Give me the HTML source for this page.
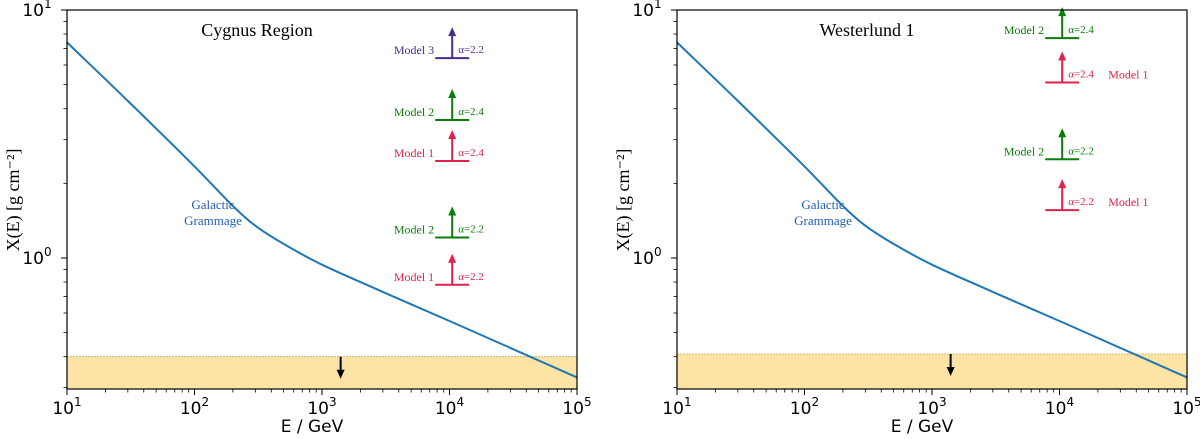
<!DOCTYPE html>
<html><head><meta charset="utf-8"><style>
html,body{margin:0;padding:0;background:#fff;}
svg{display:block;}
.tk{font-family:"DejaVu Sans","Liberation Sans",sans-serif;font-size:17px;fill:#000;}
.sf{font-family:"Liberation Serif",serif;}
</style></head><body>
<svg id="chart" width="1200" height="439"></svg>
<script>
const curveE = [10, 30, 100, 200, 300, 500, 1000, 3000, 10000, 30000, 100000];
const curveX = [7.4, 4.3, 2.34, 1.62, 1.35, 1.14, 0.94, 0.73, 0.557, 0.434, 0.33];
const bandTop = [0.40, 0.41];
const arrowE = 1400;
const panelTitles = ["Cygnus Region", "Westerlund 1"];
const xTickExp = [1, 2, 3, 4, 5];
const yTickExp = [0, 1];
const mkPanel = [0, 0, 0, 0, 0, 1, 1, 1, 1];
const mkLabel = ["Model 3", "Model 2", "Model 1", "Model 2", "Model 1", "Model 2", "Model 1", "Model 2", "Model 1"];
const mkAlpha = ["2.2", "2.4", "2.4", "2.2", "2.2", "2.4", "2.4", "2.2", "2.2"];
const mkX = [6.4, 3.6, 2.46, 1.21, 0.78, 7.7, 5.1, 2.5, 1.56];
const mkE = [10500, 10500, 10500, 10500, 10500, 10500, 10500, 10500, 10500];
const mkColor = ["#4b2c8c", "#0a7d0a", "#e0224a", "#0a7d0a", "#e0224a", "#0a7d0a", "#e0224a", "#0a7d0a", "#e0224a"];
const mkSide = ["L", "L", "L", "L", "L", "L", "R", "L", "R"];

const NS = "http://www.w3.org/2000/svg";
const svg = document.getElementById("chart");
function el(t, a, p) { const e = document.createElementNS(NS, t); for (const k in a) e.setAttribute(k, a[k]); (p || svg).appendChild(e); return e; }
const panels = [{x0: 67, x1: 577}, {x0: 677, x1: 1187}];
const yTop = 10, yBot = 389, decade = 248;
function sy(v) { return yTop + (1 - Math.log10(v)) * decade; }
function sxF(p) { return e => p.x0 + (Math.log10(e) - 1) / 4 * (p.x1 - p.x0); }
function smoothPath(pts) {
  let d = "M" + pts[0][0].toFixed(1) + "," + pts[0][1].toFixed(1);
  for (let i = 0; i < pts.length - 1; i++) {
    const p0 = pts[Math.max(0, i - 1)], p1 = pts[i], p2 = pts[i + 1], p3 = pts[Math.min(pts.length - 1, i + 2)];
    const c1 = [p1[0] + (p2[0] - p0[0]) / 6, p1[1] + (p2[1] - p0[1]) / 6];
    const c2 = [p2[0] - (p3[0] - p1[0]) / 6, p2[1] - (p3[1] - p1[1]) / 6];
    d += `C${c1[0].toFixed(1)},${c1[1].toFixed(1)} ${c2[0].toFixed(1)},${c2[1].toFixed(1)} ${p2[0].toFixed(1)},${p2[1].toFixed(1)}`;
  }
  return d;
}

panels.forEach((p, pi) => {
  const sx = sxF(p);
  const g = el("g", {});
  
  
  el("rect", {x: p.x0, y: yTop, width: p.x1 - p.x0, height: yBot - yTop, fill: "#fff"}, g);
  const by = sy(bandTop[pi]);
  const band = el("rect", {x: p.x0, y: by, width: p.x1 - p.x0, height: yBot - by, fill: "#fde4a4"}, g);
  
  
  el("line", {x1: p.x0, x2: p.x1, y1: by, y2: by, stroke: "#c9a860", "stroke-width": 0.8, "stroke-dasharray": "2,1"}, g);
  const ax = sx(arrowE);
  const ar = el("g", {}, g);
  
  
  el("line", {x1: ax, x2: ax, y1: by, y2: by + 16, stroke: "#000", "stroke-width": 2}, ar);
  el("path", {d: `M${ax - 4},${by + 13} L${ax + 4},${by + 13} L${ax},${by + 22} Z`, fill: "#000"}, ar);
  const pts = curveE.map((e, i) => [sx(e), sy(curveX[i])]);
  const c = el("path", {d: smoothPath(pts), fill: "none", stroke: "#1f77b4", "stroke-width": 2, "stroke-linejoin": "round"}, g);
  
  
  const lx = p.x0 + 146;
  const gl = el("text", {x: lx, y: 209, "text-anchor": "middle", class: "sf", "font-size": 13, fill: "#1f5fb4"}, g);
  
  
  gl.innerHTML = '<tspan x="' + lx + '">Galactic</tspan><tspan x="' + lx + '" dy="16">Grammage</tspan>';
  const t = el("text", {x: p.x0 + 190, y: 36, "text-anchor": "middle", class: "sf", "font-size": 18, fill: "#000"}, g);
  
  
  t.textContent = panelTitles[pi];
  mkPanel.forEach((pp, i) => {
    if (pp !== pi) return;
    const mx = sx(mkE[i]), my = sy(mkX[i]), col = mkColor[i];
    const mg = el("g", {}, g);
    
    
    el("line", {x1: mx - 17, x2: mx + 17, y1: my, y2: my, stroke: col, "stroke-width": 2}, mg);
    el("line", {x1: mx, x2: mx, y1: my, y2: my - 24, stroke: col, "stroke-width": 2}, mg);
    el("path", {d: `M${mx - 4},${my - 22} L${mx + 4},${my - 22} L${mx},${my - 31} Z`, fill: col}, mg);
    const at = el("text", {x: mx + 6, y: my - 5, class: "sf", "font-size": 11, fill: col}, mg);
    at.textContent = "α=" + mkAlpha[i];
    const lt = mkSide[i] === "L"
      ? el("text", {x: mx - 18, y: my - 4, "text-anchor": "end", class: "sf", "font-size": 12, fill: col}, mg)
      : el("text", {x: mx + 46, y: my - 4, class: "sf", "font-size": 12, fill: col}, mg);
    lt.textContent = mkLabel[i];
  });
  el("rect", {x: p.x0, y: yTop, width: p.x1 - p.x0, height: yBot - yTop, fill: "none", stroke: "#000", "stroke-width": 1.2}, g);
  xTickExp.forEach((k, i) => {
    const x = sx(Math.pow(10, k));
    el("line", {x1: x, x2: x, y1: yBot, y2: yBot + 6, stroke: "#000", "stroke-width": 1}, g);
    const tl = el("text", {x: x, y: yBot + 25, "text-anchor": "middle", class: "tk"}, g);
    
    
    tl.innerHTML = '10<tspan dy="-8" font-size="12">' + k + '</tspan>';
    if (i < xTickExp.length - 1) for (let m = 2; m < 10; m++) {
      const xm = sx(m * Math.pow(10, k));
      el("line", {x1: xm, x2: xm, y1: yBot, y2: yBot + 3.5, stroke: "#000", "stroke-width": 0.8}, g);
    }
  });
  yTickExp.forEach(k => {
    const y = sy(Math.pow(10, k));
    el("line", {x1: p.x0 - 6, x2: p.x0, y1: y, y2: y, stroke: "#000", "stroke-width": 1}, g);
    const tl = el("text", {x: p.x0 - 30, y: y + 6, "text-anchor": "middle", class: "tk"}, g);
    
    
    tl.innerHTML = '10<tspan dy="-8" font-size="12">' + k + '</tspan>';
  });
  for (let k = -1; k <= 0; k++) for (let m = 2; m < 10; m++) {
    const v = m * Math.pow(10, k), y = sy(v);
    if (y < yTop || y > yBot) continue;
    el("line", {x1: p.x0 - 3.5, x2: p.x0, y1: y, y2: y, stroke: "#000", "stroke-width": 0.8}, g);
  }
  const xl = el("text", {x: (p.x0 + p.x1) / 2 - 10, y: 432, "text-anchor": "middle", class: "tk", "font-size": 18}, g);
  
  
  xl.textContent = "E / GeV";
  const yx = p.x0 - 48, yy = 200;
  const yl = el("text", {x: yx, y: yy, "text-anchor": "middle", class: "sf", "font-size": 18, transform: `rotate(-90 ${yx} ${yy})`}, g);
  
  
  yl.textContent = "X(E) [g cm⁻²]";
});
</script>
</body></html>
